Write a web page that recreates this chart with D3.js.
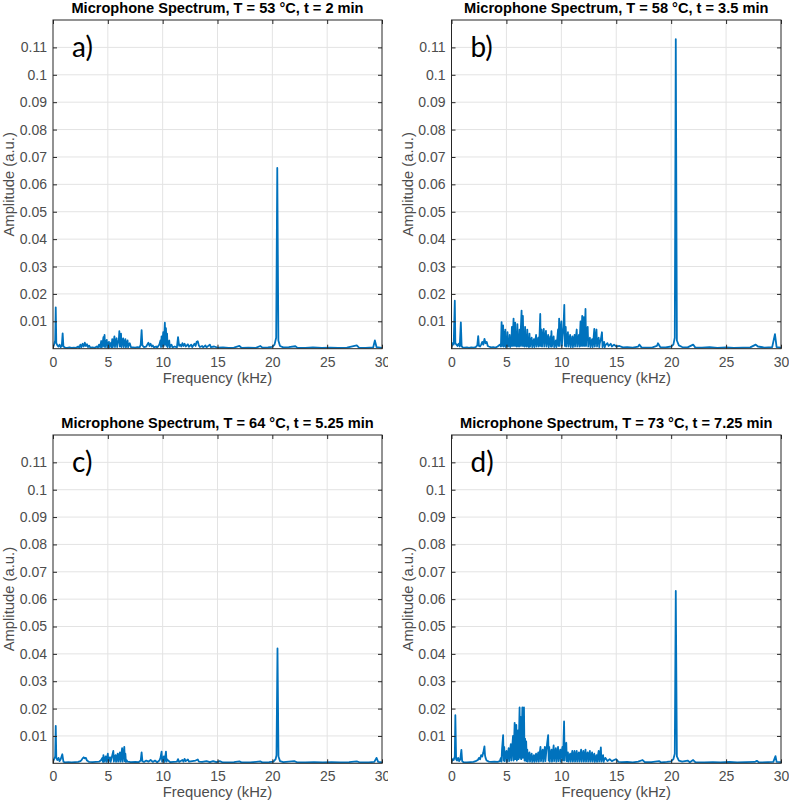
<!DOCTYPE html>
<html>
<head>
<meta charset="utf-8">
<script src="https://cdn.jsdelivr.net/npm/d3@7"></script>
<style>
  html, body { margin: 0; padding: 0; background: #fff; }
  svg { display: block; font-family: "Liberation Sans", Arial, sans-serif; }
</style>
</head>
<body>
<div id="chart"></div>
<script>
// Tick values / labels shared by the four panels
const xTicks = [0, 5, 10, 15, 20, 25, 30];
const yTicks = [0.01, 0.02, 0.03, 0.04, 0.05, 0.06, 0.07, 0.08, 0.09, 0.1, 0.11];
const yTickLabels = ["0.01", "0.02", "0.03", "0.04", "0.05", "0.06", "0.07", "0.08", "0.09", "0.1", "0.11"];

const titles = [
    "Microphone Spectrum, T = 53 °C, t = 2 min",
    "Microphone Spectrum, T = 58 °C, t = 3.5 min",
    "Microphone Spectrum, T = 64 °C, t = 5.25 min",
    "Microphone Spectrum, T = 73 °C, t = 7.25 min"
];
const letters = ["a)", "b)", "c)", "d)"];

// Spectra: [frequency (kHz), amplitude x 1e-3]
const specA = [[0,0.5],[0.1,1.5],[0.2,3],[0.25,15.1],[0.3,2],[0.4,1.2],[0.5,0.8],[0.6,1.5],[0.7,0.6],[0.8,1],[0.88,5.6],[0.95,0.8],[1.1,0.4],[1.3,0.3],[1.5,0.5],[1.7,0.3],[1.9,0.4],[2.1,0.3],[2.3,0.8],[2.4,0.3],[2.5,1.5],[2.6,0.6],[2.7,1.8],[2.8,0.8],[2.9,2.2],[3.0,1],[3.1,1.6],[3.2,0.6],[3.3,1.1],[3.4,0.4],[3.6,0.5],[3.8,0.3],[4.0,0.8],[4.1,0.4],[4.2,1.5],[4.3,0.6],
  [4.4,2.8],[4.45,0.5],[4.5,1.2],[4.6,4.2],[4.65,0.8],[4.7,5],[4.75,0.6],[4.8,2],[4.9,3.2],[4.95,0.5],[5.0,1.4],[5.1,2.5],[5.15,0.5],[5.2,1.2],[5.3,2.2],[5.35,0.5],[5.4,3.5],[5.45,0.6],[5.5,1.5],[5.6,4.5],[5.65,0.6],[5.7,2.2],[5.8,3.8],[5.85,0.6],[5.9,1.8],[6.0,3.2],[6.05,6.4],[6.1,0.8],[6.2,5.5],[6.25,0.6],[6.3,2],[6.4,3.8],[6.45,0.6],[6.5,1.8],[6.6,3.5],[6.65,0.5],[6.7,1.5],[6.8,3],[6.85,0.5],[6.9,1.2],[7.0,2],
  [7.1,0.6],[7.3,0.5],[7.5,0.4],[7.7,0.6],[7.9,0.5],[8.0,1.5],[8.08,6.8],[8.15,1.2],[8.3,0.6],[8.5,0.8],[8.7,2.2],[8.8,1],[8.9,1.8],[9.0,0.8],[9.1,1.2],[9.2,0.5],[9.4,0.8],[9.5,0.4],
  [9.7,1.5],[9.8,3],[9.85,0.6],[9.9,4.5],[9.95,0.8],[10.05,6],[10.1,1],[10.2,9.5],[10.25,1.5],[10.3,7.5],[10.35,1],[10.4,5.5],[10.45,0.6],[10.5,2],[10.6,3],[10.65,0.5],[10.7,1],[10.8,1.5],
  [10.9,0.5],[11.1,0.8],[11.3,0.5],[11.4,4.2],[11.5,1],[11.6,1.5],[11.7,0.8],[11.8,2],[11.9,1],[12.0,1.8],[12.1,0.8],[12.3,1.6],[12.4,0.7],[12.6,1.5],[12.7,0.6],[12.9,1.8],[13.0,1],[13.1,2.5],[13.2,2.7],[13.3,1.2],[13.4,0.6],[13.6,1],[13.7,0.5],[13.9,1.2],[14.0,0.5],[14.3,1.5],[14.4,0.6],[14.7,0.8],[15,0.4],[15.5,0.5],[16,0.3],[16.5,0.4],[17.0,1],[17.2,0.3],[17.8,0.4],[18.5,0.3],[18.9,1],[19.1,0.4],[19.6,0.5],[20.0,0.7],[20.2,1.5],[20.35,4],[20.45,66],[20.55,3],[20.7,1],[21.0,0.5],[21.5,0.6],[22.1,0.9],[22.3,0.3],[23,0.3],[23.7,0.5],[24.5,0.3],[25.3,0.4],[26,0.3],[26.8,0.4],[27.7,1.2],[27.9,0.4],[28.5,0.3],[29.2,0.5],[29.35,3],[29.5,0.6],[30,0.3]];

const specB = [[0,0.6],[0.1,2],[0.2,1.5],[0.3,17.5],[0.35,2],[0.45,1.5],[0.55,1],[0.65,1.8],[0.75,0.8],[0.85,9.6],[0.92,1],[1.0,0.5],[1.2,0.4],[1.4,0.5],[1.6,0.3],[1.8,0.5],[2.0,0.4],[2.2,0.6],[2.35,1.2],[2.43,4.6],[2.5,1],[2.6,0.8],[2.7,1.5],[2.8,2.5],[2.9,1.5],[3.0,3.6],[3.1,2],[3.2,2.5],[3.3,1],[3.4,0.8],[3.6,0.5],[3.8,0.6],[4.0,0.4],[4.2,0.8],
  [4.4,1.5],[4.5,0.8],[4.56,9.7],[4.62,1],[4.7,8.5],[4.75,0.8],[4.8,6],[4.85,1],[4.9,7],[4.95,0.6],[5.0,4],[5.05,1],[5.1,6],[5.15,0.8],[5.2,3],[5.25,1],[5.3,5],[5.35,0.6],[5.4,4],[5.45,1],[5.5,8],[5.55,1],[5.6,6],[5.65,11],[5.7,1],[5.75,7],[5.8,9.5],[5.85,1],[5.9,5],[5.95,0.8],[6.0,9],[6.05,1],[6.1,5],[6.15,0.8],[6.2,7],[6.25,1],[6.3,6],[6.38,13.9],[6.42,1],[6.5,12],[6.55,1],[6.6,5],[6.65,0.8],[6.7,8],[6.75,1],[6.8,4],[6.85,0.8],[6.9,7],[6.95,1],[7.0,3],[7.05,0.6],[7.1,5.5],[7.15,0.8],[7.2,2],[7.3,4],[7.35,0.6],[7.4,1.5],[7.5,3.5],[7.55,0.6],[7.6,2],[7.7,5],[7.75,0.8],[7.8,2],[7.9,4],[7.95,0.8],[8.0,3],[8.08,12.7],[8.12,1],[8.2,7],[8.25,0.8],[8.3,3],[8.4,7.2],[8.45,0.8],[8.5,3],[8.6,6.5],[8.65,0.8],[8.7,2.5],[8.8,5],[8.85,0.6],[8.9,2],[9.0,4.5],[9.05,0.8],[9.1,6.4],[9.15,0.8],[9.2,2.5],[9.3,4.5],[9.35,0.6],[9.4,1.5],[9.5,3],[9.55,0.6],[9.6,2],[9.7,7],[9.75,1],[9.8,11],[9.85,1],[9.9,5],[10.0,10],[10.05,1],[10.1,4],[10.2,8],[10.27,16],[10.32,1],[10.4,8],[10.45,0.8],[10.5,3],[10.6,6],[10.65,0.8],[10.7,2.5],[10.8,5],[10.85,0.6],[10.9,2],[11.0,4.5],[11.05,0.6],[11.1,2],[11.2,5],[11.25,0.8],[11.3,3],[11.4,7],[11.45,0.8],[11.5,2.5],[11.6,5],[11.65,0.8],[11.75,10],[11.8,1],[11.9,12],[11.95,1],[12.05,11.5],[12.1,1],[12.2,14.5],[12.25,1],[12.3,6],[12.4,8],[12.45,0.8],[12.5,3],[12.6,4],[12.65,0.6],[12.7,2],[12.8,3.5],[12.85,0.6],[12.9,2],[13.0,7.2],[13.05,0.8],[13.1,3],[13.2,7],[13.25,0.8],[13.3,3],[13.4,4],[13.45,0.6],[13.5,2],[13.6,3.5],[13.7,6],[13.75,0.6],[13.8,2],[13.9,2.5],[13.95,0.5],[14.0,1.2],
  [14.2,2],[14.3,1],[14.5,1.8],[14.6,0.8],[14.8,1.5],[15.0,0.8],[15.3,1],[15.6,0.5],[16.0,0.6],[16.5,0.4],[17.0,0.8],[17.1,1.5],[17.3,0.5],[17.8,0.4],[18.3,0.5],[18.7,1],[18.8,2],[19.0,0.6],[19.5,0.5],[20.0,0.8],[20.2,1.5],[20.33,4],[20.42,113],[20.52,3],[20.7,1.2],[21.0,0.6],[21.5,0.5],[22.0,1.5],[22.2,0.4],[22.8,0.4],[23.5,0.6],[24.2,0.3],[25,0.5],[25.7,0.3],[26.5,0.4],[27.2,0.5],[27.7,1.5],[27.9,0.8],[28.5,0.4],[29.2,0.6],[29.45,5.3],[29.6,0.6],[30,0.4]];

const specC = [[0,0.5],[0.1,1.5],[0.2,2.5],[0.25,13.7],[0.3,2],[0.4,1.2],[0.5,2],[0.6,0.8],[0.7,1.5],[0.85,3.3],[0.95,0.6],[1.1,0.3],[1.4,0.4],[1.7,0.3],[2.0,0.4],[2.3,0.5],[2.5,0.8],[2.6,1.2],[2.7,1.8],[2.8,2.2],[2.9,1.8],[3.0,2],[3.1,1],[3.3,0.5],[3.6,0.4],[3.9,0.5],[4.2,0.6],
  [4.4,1.2],[4.5,2],[4.55,0.5],[4.6,3],[4.65,0.5],[4.7,1.5],[4.8,2.5],[4.85,0.5],[4.9,1.2],[5.0,3.5],[5.05,0.5],[5.1,1.5],[5.2,2.2],[5.25,0.5],[5.3,1.2],[5.5,4.5],[5.55,0.6],[5.6,2],[5.7,3],[5.75,0.5],[5.8,1.5],[5.9,3.5],[5.95,0.6],[6.0,2],[6.1,4],[6.15,0.6],[6.2,2],[6.3,5.5],[6.35,0.6],[6.4,2.5],[6.5,6],[6.55,0.8],[6.6,3.5],[6.65,0.5],[6.7,1.2],
  [6.8,0.6],[7.1,0.4],[7.5,0.5],[7.8,0.4],[8.0,1],[8.08,4],[8.15,0.8],[8.3,0.5],[8.5,1],[8.7,0.6],[8.9,1.2],[9.1,0.5],[9.3,1],[9.5,0.4],[9.7,1],
  [9.8,2],[9.9,4.3],[9.95,0.6],[10.0,1.5],[10.1,2.5],[10.15,0.5],[10.2,1.2],[10.3,4.3],[10.35,0.6],[10.4,1.5],
  [10.5,1],[10.7,0.4],[11.0,0.5],[11.3,0.6],[11.4,1.5],[11.5,0.5],[11.8,1.2],[11.9,0.6],[12.0,1.6],[12.1,0.8],[12.3,1.4],[12.4,0.6],[12.7,0.8],[13.0,1],[13.2,1.4],[13.3,0.6],[13.6,0.5],[14.0,0.8],[14.3,0.4],[14.6,0.8],[14.9,0.4],[15.2,0.8],[15.5,0.3],[16,0.3],[16.5,0.4],[17.0,0.7],[17.2,0.3],[18,0.3],[18.9,0.7],[19.1,0.3],[19.7,0.4],[20.1,0.6],[20.3,1.5],[20.38,3],[20.47,42],[20.56,2.5],[20.7,0.8],[21.0,0.4],[21.5,0.6],[22.0,0.8],[22.3,0.3],[23,0.3],[23.8,0.4],[24.6,0.3],[25.4,0.4],[26.2,0.3],[27,0.4],[27.7,0.7],[28,0.3],[28.8,0.3],[29.3,0.5],[29.5,2],[29.65,0.5],[30,0.3]];

const specD = [[0,0.5],[0.1,1.5],[0.2,1.2],[0.3,2.5],[0.35,17.6],[0.42,1.5],[0.5,1],[0.6,2],[0.7,0.8],[0.8,1.5],[0.9,4.9],[0.97,0.8],[1.1,0.4],[1.4,0.3],[1.7,0.4],[2.0,0.5],[2.2,0.8],[2.4,1.2],[2.5,2],[2.6,1.5],[2.7,3],[2.8,2.5],[2.9,4],[3.0,6.2],[3.05,3],[3.1,2],[3.2,1],[3.4,0.6],[3.6,0.5],[3.9,0.6],[4.2,0.5],
  [4.4,0.8],[4.5,2],[4.55,0.6],[4.6,5],[4.7,10.3],[4.75,1],[4.8,6],[4.85,0.8],[4.9,3],[5.0,4.5],[5.05,0.6],[5.1,2.5],[5.2,5.5],[5.25,0.8],[5.3,3],[5.4,7],[5.45,1],[5.5,4],[5.6,10],[5.65,1],[5.75,14.8],[5.8,1.5],[5.9,14],[5.95,1],[6.05,12],[6.1,1.5],[6.2,20.4],[6.25,2],[6.3,17],[6.35,1.5],[6.45,20.4],[6.5,2],[6.6,20.4],[6.65,1],[6.7,9],[6.75,1],[6.8,8],[6.85,0.8],[6.9,5],[6.95,0.6],[7.0,2.5],[7.1,4],[7.15,0.6],[7.2,2],[7.3,3.5],[7.35,0.5],[7.4,1.5],[7.5,3],[7.55,0.5],[7.6,1.5],[7.7,3.5],[7.75,0.6],[7.8,2],[7.9,4],[7.95,0.6],[8.0,2.5],[8.1,6],[8.15,0.8],[8.2,3],[8.3,5],[8.35,0.6],[8.4,2.5],[8.5,6],[8.55,0.8],[8.6,3],[8.7,7],[8.8,10.3],[8.85,1],[8.9,6],[8.95,0.6],[9.0,3],[9.1,5],[9.15,0.6],[9.2,2.5],[9.3,6.5],[9.35,0.8],[9.4,3],[9.5,5.5],[9.55,0.6],[9.6,2.5],[9.7,6],[9.75,0.8],[9.8,3],[9.9,5],[9.95,0.6],[10.0,3.5],[10.1,6],[10.15,1],[10.25,15.3],[10.3,1],[10.35,5],[10.45,7.5],[10.5,0.8],[10.55,2.5],[10.6,4],[10.65,0.6],[10.7,2],[10.8,3.5],[10.85,0.6],[10.9,2],[11.0,4.5],[11.05,0.6],[11.1,2],[11.2,4.5],[11.25,0.6],[11.3,2],[11.4,4.5],[11.45,0.6],[11.5,2.5],[11.6,4],[11.65,0.6],[11.7,2],[11.8,5],[11.85,0.6],[11.9,2.5],[12.0,4.5],[12.05,0.6],[12.1,2],[12.2,5],[12.25,0.6],[12.3,2.5],[12.4,4],[12.45,0.6],[12.5,2],[12.6,4.5],[12.65,0.6],[12.7,2],[12.8,4],[12.85,0.6],[12.9,2],[13.0,3.5],[13.05,0.5],[13.1,1.5],[13.2,3],[13.25,0.5],[13.3,2],[13.4,4.5],[13.45,0.6],[13.5,2],[13.6,5.8],[13.65,0.6],[13.7,2],[13.8,3],[13.85,0.5],[13.9,1.2],[14.0,2],
  [14.2,0.8],[14.4,1.5],[14.6,0.8],[14.8,1.2],[15.0,1.5],[15.2,0.5],[15.5,0.4],[16,0.5],[16.5,0.3],[17.0,0.6],[17.4,1.2],[17.6,0.4],[18.2,0.4],[18.9,0.8],[19.1,0.3],[19.6,0.5],[20.0,0.7],[20.2,1.5],[20.33,3.5],[20.42,63],[20.52,2.5],[20.7,1],[21.0,0.6],[21.5,1],[21.7,0.4],[22.0,1.2],[22.2,0.4],[23,0.3],[23.8,0.4],[24.5,0.3],[25.3,0.5],[26,0.3],[26.8,0.4],[27.6,0.5],[27.8,0.9],[28.0,0.3],[28.8,0.4],[29.3,0.5],[29.5,2.6],[29.6,0.5],[30,0.4]];

const spectra = [specA, specB, specC, specD];

// Plot boxes (pixel positions of the four axes)
const boxes = [
    {l: 53,    r: 382, t: 20,  b: 348.7},
    {l: 451.5, r: 781, t: 20,  b: 348.7},
    {l: 53,    r: 382, t: 435, b: 763.3},
    {l: 451.5, r: 781, t: 435, b: 763.3}
];

const W = 789, H = 807;
const lineColor = "#0072BD";
const axisColor = "#262626";
const labelColor = "#4d4d4d";
const gridColor = "#e3e3e3";

const svg = d3.select("#chart")
    .append("svg")
    .attr("width", W)
    .attr("height", H);

svg.append("rect").attr("width", W).attr("height", H).attr("fill", "#fff");

const defs = svg.append("defs");
// left column of the original figure is cut just right of its axes
defs.append("clipPath").attr("id", "leftcol")
    .append("rect").attr("x", 0).attr("y", 0).attr("width", 388).attr("height", H);

boxes.forEach((bx, i) => {
    const holder = svg.append("g");
    if (i % 2 === 0) holder.attr("clip-path", "url(#leftcol)");

    const x = d3.scaleLinear().domain([0, 30]).range([bx.l, bx.r]);
    const y = d3.scaleLinear().domain([0, 0.12]).range([bx.b, bx.t]);

    // grid
    holder.append("g")
        .selectAll("line")
        .data(xTicks.slice(1, -1))
        .enter().append("line")
        .attr("x1", d => x(d)).attr("x2", d => x(d))
        .attr("y1", bx.t).attr("y2", bx.b)
        .attr("stroke", gridColor).attr("stroke-width", 1);
    holder.append("g")
        .selectAll("line")
        .data(yTicks)
        .enter().append("line")
        .attr("x1", bx.l).attr("x2", bx.r)
        .attr("y1", d => y(d)).attr("y2", d => y(d))
        .attr("stroke", gridColor).attr("stroke-width", 1);

    // spectrum
    const clipId = "plot" + i;
    defs.append("clipPath").attr("id", clipId)
        .append("rect")
        .attr("x", bx.l).attr("y", bx.t)
        .attr("width", bx.r - bx.l).attr("height", bx.b - bx.t);

    const pts = spectra[i].map(d => [d[0], d[1] / 1000]);
    const line = d3.line().x(d => x(d[0])).y(d => y(d[1]));
    holder.append("path")
        .datum(pts)
        .attr("clip-path", `url(#${clipId})`)
        .attr("d", line)
        .attr("fill", "none")
        .attr("stroke", lineColor)
        .attr("stroke-width", 1.8)
        .attr("stroke-linejoin", "round");

    // axes (ticks pointing inward, box on)
    const xb = holder.append("g")
        .attr("transform", `translate(0,${bx.b})`)
        .call(d3.axisBottom(x).tickValues(xTicks).tickSize(-4).tickPadding(8));
    const xt = holder.append("g")
        .attr("transform", `translate(0,${bx.t})`)
        .call(d3.axisTop(x).tickValues(xTicks).tickSize(-4).tickFormat(""));
    const yl = holder.append("g")
        .attr("transform", `translate(${bx.l},0)`)
        .call(d3.axisLeft(y).tickValues(yTicks).tickSize(-4).tickPadding(6)
            .tickFormat((d, k) => yTickLabels[k]));
    const yr = holder.append("g")
        .attr("transform", `translate(${bx.r},0)`)
        .call(d3.axisRight(y).tickValues(yTicks).tickSize(-4).tickFormat(""));

    [xb, xt, yl, yr].forEach(g => {
        g.select(".domain").remove();
        g.selectAll(".tick line").attr("stroke", axisColor);
        g.selectAll(".tick text")
            .attr("fill", labelColor)
            .style("font-size", "14px")
            .style("font-family", "'Liberation Sans', Arial, sans-serif");
    });
    // frame
    holder.append("rect")
        .attr("x", bx.l).attr("y", bx.t)
        .attr("width", bx.r - bx.l).attr("height", bx.b - bx.t)
        .attr("fill", "none")
        .attr("stroke", axisColor)
        .attr("stroke-width", 1);

    // title
    holder.append("text")
        .attr("x", (bx.l + bx.r) / 2)
        .attr("y", bx.t - 7.5)
        .attr("text-anchor", "middle")
        .attr("fill", "#000")
        .style("font-size", "14.6px")
        .style("font-weight", "bold")
        .text(titles[i]);

    // axis labels
    holder.append("text")
        .attr("x", (bx.l + bx.r) / 2)
        .attr("y", bx.b + 34)
        .attr("text-anchor", "middle")
        .attr("fill", labelColor)
        .style("font-size", "14.8px")
        .text("Frequency (kHz)");
    holder.append("text")
        .attr("transform", `translate(${bx.l - 39},${(bx.t + bx.b) / 2}) rotate(-90)`)
        .attr("text-anchor", "middle")
        .attr("fill", labelColor)
        .style("font-size", "14.8px")
        .text("Amplitude (a.u.)");

    // panel letter
    holder.append("text")
        .attr("x", bx.l + 19)
        .attr("y", y(0.11) + 10)
        .attr("fill", "#000")
        .style("font-family", "Lato, 'Open Sans', sans-serif")
        .style("font-size", "28px")
        .text(letters[i]);
});
</script>
</body>
</html>
